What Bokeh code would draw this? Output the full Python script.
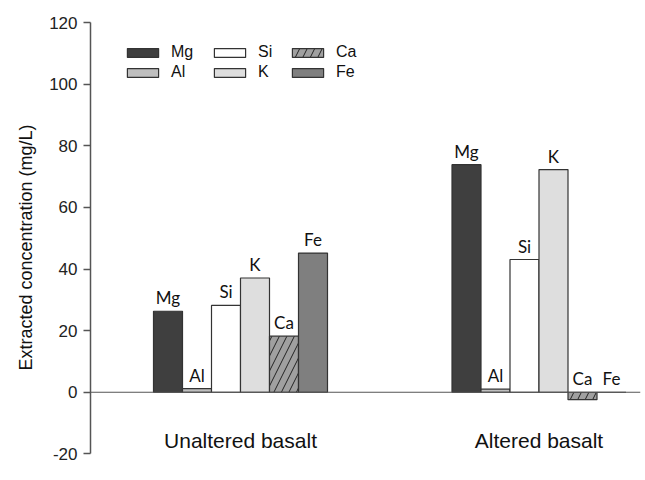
from bokeh.plotting import figure
from bokeh.models import Range1d, Span, Legend, LegendItem, ColumnDataSource, FixedTicker
from bokeh.core.properties import value
from bokeh.embed import file_html
from bokeh.resources import INLINE

groups = ["Unaltered basalt", "Altered basalt"]
elements = ["Mg", "Al", "Si", "K", "Ca", "Fe"]
unaltered = [26.3, 1.2, 28.2, 37.1, 18.2, 45.2]
altered = [73.9, 1.0, 43.1, 72.3, -2.4, 0.0]
colors = ["#3f3f3f", "#bfbfbf", "#ffffff", "#dedede", "#a0a0a0", "#7f7f7f"]
hatches = [" ", " ", " ", " ", "/", " "]
y_ticks = [-20, 0, 20, 40, 60, 80, 100, 120]

values = [unaltered, altered]
bar_w = 29.0
group_centers = [150.0, 448.5]

p = figure(width=645, height=480, output_backend="svg", toolbar_location=None,
           x_range=Range1d(0, 550), y_range=Range1d(-28, 122),
           min_border_left=90, min_border_right=5, min_border_top=16, min_border_bottom=2)
p.xaxis.visible = False
p.xgrid.visible = False
p.ygrid.visible = False
p.outline_line_color = None
p.background_fill_color = "white"

yax = p.yaxis[0]
yax.ticker = FixedTicker(ticks=y_ticks)
yax.major_label_overrides = {t: str(t) for t in y_ticks}
yax.bounds = (-20, 120)
yax.axis_label = "Extracted concentration (mg/L)"
yax.axis_label_text_font = "Liberation Sans"
yax.axis_label_text_font_style = "normal"
yax.axis_label_text_font_size = "18px"
yax.axis_label_text_color = "#111111"
yax.axis_label_standoff = 10
yax.major_label_text_font = "Liberation Sans"
yax.major_label_text_font_size = "17px"
yax.major_label_text_color = "#222222"
yax.axis_line_color = "#555555"
yax.axis_line_width = 1.5
yax.major_tick_line_color = "#555555"
yax.major_tick_line_width = 1.5
yax.major_tick_out = 7
yax.major_tick_in = 0
yax.minor_tick_line_color = None
yax.major_label_standoff = 6

p.add_layout(Span(location=0, dimension="width", line_color="#555555", line_width=1.2))

renderers = []
for i, el in enumerate(elements):
    xs, tops, ly = [], [], []
    for g, c in enumerate(group_centers):
        x = c + (i - 2.5) * bar_w
        v = values[g][i]
        xs.append(x)
        tops.append(v)
        ly.append(max(v, 0))
    src = ColumnDataSource(dict(x=xs, top=tops))
    r = p.vbar(x="x", top="top", bottom=0, width=bar_w, source=src,
               fill_color=colors[i], line_color="#333333", line_width=1.2,
               hatch_pattern=hatches[i], hatch_color="#222222", hatch_scale=15, hatch_weight=1)
    renderers.append(r)
    p.text(x=xs, y=ly, text=[el, el], text_align="center", text_baseline="bottom",
           y_offset=-3, text_font=value("Lato"), text_font_size="17px", text_color="#111111")

p.text(x=group_centers, y=[-20, -20], text=groups, text_align="center", text_baseline="middle",
       y_offset=-13, text_font=value("Liberation Sans"), text_font_size="21px", text_color="#111111")

# legend: three columns of two items each
legend_x = [33, 120, 198]
for col in range(3):
    items = [LegendItem(label=elements[2 * col + k], renderers=[renderers[2 * col + k]]) for k in range(2)]
    lg = Legend(items=items, orientation="vertical",
                glyph_width=39, glyph_height=11, label_standoff=9, spacing=0,
                label_text_font="Liberation Sans", label_text_font_size="16px",
                label_height=20, label_text_color="#111111", label_text_baseline="middle",
                border_line_color=None, background_fill_alpha=0,
                margin=0, padding=0)
    lg.location = (legend_x[col], 396)
    p.add_layout(lg)

open("out.html", "w").write(file_html(p, INLINE))
